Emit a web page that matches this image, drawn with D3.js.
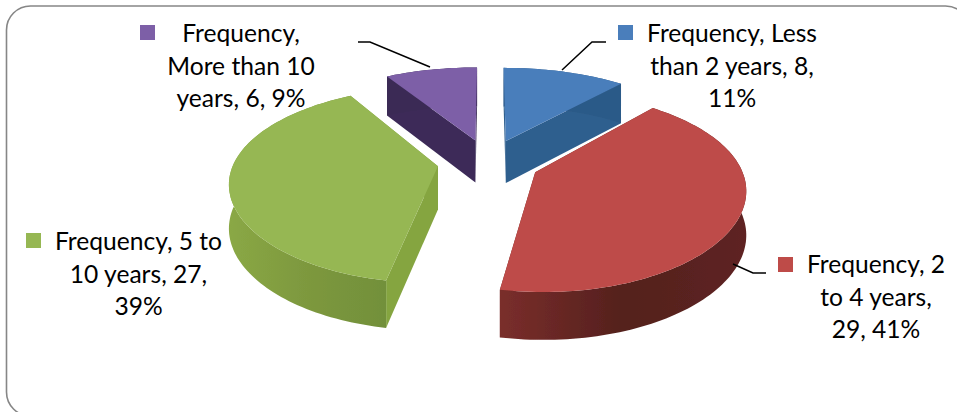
<!DOCTYPE html>
<html><head><meta charset="utf-8">
<script src="https://cdn.jsdelivr.net/npm/d3@7"></script>
<style>html,body{margin:0;background:#fff}svg{display:block}text{font-family:Lato,"Noto Sans",sans-serif;font-size:24.6px;fill:#000}</style>
</head><body><svg id="c" width="957" height="412"></svg>
<script>
const categories=["Less than 2 years","2 to 4 years","5 to 10 years","More than 10 years"];
const values=[8,29,27,6];
const topColors=["#4a7ebb","#be4b48","#96b753","#7d5fa7"];
const wallStops=[["#2c5a88","#2c5a88","#2c5a88"],["#7a2e2b","#54201d","#5e2422"],["#8aa845","#7d983e","#72903a"],["#3a2a55","#3a2a55","#3a2a55"]];
const cutColors=["#2f5f8e","#6d2825","#85a541","#3c2b58"];
const labelLines=[["Frequency, Less","than 2 years, 8,","11%"],["Frequency, 2","to 4 years,","29, 41%"],["Frequency, 5 to","10 years, 27,","39%"],["Frequency,","More than 10","years, 6, 9%"]];
const labelX=[732,876,138.5,241];
const labelY=[34,265,242,34];
const swatchX=[618,778,26,140];
const swatchY=[25,257,233,25];
const leaders=[[[562,70],[592,42],[606,42]],[[733,264],[753,273],[766,273]],null,[[430,67],[370,42],[358,42]]];

const svg=d3.select("#c");
svg.append("rect").attr("x",6.5).attr("y",6).attr("width",963).attr("height",410).attr("rx",24).attr("fill","#fff").attr("stroke","#868686").attr("stroke-width",1.6);
const defs=svg.append("defs");
defs.append("filter").attr("id","soft").append("feGaussianBlur").attr("stdDeviation",0.45);
wallStops.forEach((s,i)=>{
  const g=defs.append("linearGradient").attr("id","wall"+i);
  s.forEach((c,k)=>g.append("stop").attr("offset",k/2).attr("stop-color",c));
});

const pie=d3.pie().sort(null).value(d=>d);
const arcs=pie(values);
const cx=488.5,cy=162,A=93.5,B=0.183,Bx=0.15,C=204,H=43,E=0.25;
const projX=(X,Y)=>cx+C*X/(1+Bx*Y);
const projY=(X,Y)=>cy-A*Y/(1+B*Y);
const drop=Y=>H/(1+B*Y*0.5);
const line=d3.line();

const order=[3,0,2,1];
order.forEach(i=>{
  const a=arcs[i],m=(a.startAngle+a.endAngle)/2;
  const ox=E*Math.sin(m),oy=E*Math.cos(m);
  const n=Math.max(8,Math.round((a.endAngle-a.startAngle)*40));
  const rim=d3.range(n+1).map(k=>{const t=a.startAngle+(a.endAngle-a.startAngle)*k/n;return [ox+Math.sin(t),oy+Math.cos(t)];});
  const T=p=>[projX(p[0],p[1]),projY(p[0],p[1])];
  const D=p=>[projX(p[0],p[1]),projY(p[0],p[1])+drop(p[1])];
  const g=svg.append("g").attr("filter","url(#soft)");
  const apex=[ox,oy];
  [rim[0],rim[n]].forEach(p=>{
    g.append("path").attr("d",line([T(apex),T(p),D(p),D(apex)])+"Z").attr("fill",cutColors[i]);
  });
  g.append("path").attr("d",line(rim.map(T).concat(rim.map(D).reverse()))+"Z").attr("fill","url(#wall"+i+")");
  g.append("path").attr("d",line([T(apex)].concat(rim.map(T)))+"Z").attr("fill",topColors[i]);
});

leaders.forEach(l=>{if(l)svg.append("path").attr("d",line(l)).attr("fill","none").attr("stroke","#000").attr("stroke-width",1.5);});
categories.forEach((c,i)=>{
  svg.append("rect").attr("x",swatchX[i]).attr("y",swatchY[i]).attr("width",15).attr("height",15).attr("fill",topColors[i]);
  const t=svg.append("text").attr("text-anchor","middle");
  labelLines[i].forEach((s,k)=>t.append("tspan").attr("x",labelX[i]).attr("y",labelY[i]+8+k*32.5).text(s));
});
</script></body></html>
